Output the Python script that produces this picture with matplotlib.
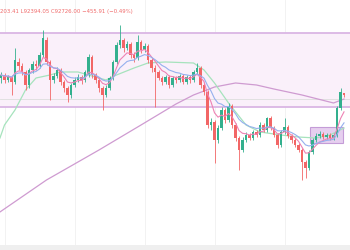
import matplotlib
matplotlib.use("Agg")
import matplotlib.pyplot as plt
import numpy as np
import pandas as pd
from matplotlib.patches import Rectangle

# ---- data (prices in thousands USD) ----
opens = [96.28, 96.91, 95.87, 96.49, 95.45, 99.63, 98.79, 97.54, 94.82, 97.96,
         99.21, 98.79, 101.09, 104.23, 99.63, 95.87, 96.70, 97.96, 95.45, 94.19,
         92.73, 94.82, 95.87, 96.49, 95.87, 96.91, 100.67, 96.91, 95.87, 94.19,
         92.73, 94.19, 96.28, 99.63, 103.18, 104.23, 102.55, 103.39, 101.09, 100.46,
         103.81, 102.14, 102.97, 100.05, 98.37, 97.54, 96.28, 95.45, 96.49, 94.82,
         96.28, 95.87, 96.70, 95.45, 96.49, 95.87, 97.54, 98.37, 94.82, 93.36,
         86.46, 87.09, 83.33, 85.83, 89.60, 87.51, 90.43, 86.46, 83.74, 81.24,
         83.33, 84.37, 83.74, 85.00, 84.37, 86.46, 85.42, 87.92, 85.83, 84.37,
         82.28, 85.00, 86.04, 84.16, 83.33, 82.28, 81.24, 78.73, 77.47, 80.82,
         83.33, 84.16, 84.58, 83.95, 84.37, 83.74, 84.37, 90.01, 93.18]
closes = [96.91, 95.87, 96.49, 95.45, 100.05, 98.79, 97.54, 94.82, 97.96, 99.21,
          98.79, 101.09, 104.64, 99.63, 95.87, 96.70, 97.96, 95.45, 94.19, 92.73,
          94.82, 95.87, 96.49, 95.87, 97.54, 100.67, 96.91, 95.87, 94.19, 92.73,
          94.19, 96.28, 99.63, 103.18, 104.23, 102.55, 103.39, 101.09, 100.46, 103.81,
          102.14, 102.97, 100.05, 98.37, 97.54, 96.28, 95.45, 96.49, 94.82, 96.28,
          95.87, 96.70, 95.45, 96.49, 95.87, 97.54, 98.37, 94.82, 93.36, 86.46,
          87.09, 83.33, 85.83, 89.60, 87.51, 90.43, 86.46, 83.74, 81.24, 83.33,
          84.37, 83.74, 85.00, 84.37, 86.46, 85.42, 87.92, 85.83, 84.37, 82.28,
          85.00, 86.04, 84.16, 83.33, 82.28, 81.24, 78.73, 77.47, 80.82, 83.33,
          84.16, 84.58, 83.95, 84.37, 83.74, 84.37, 90.01, 93.36, 92.73]
highs = [97.54, 97.33, 96.91, 96.91, 102.55, 100.46, 99.42, 97.96, 98.37, 99.84,
         100.05, 101.72, 106.32, 104.85, 100.05, 97.33, 98.58, 98.37, 95.87, 94.61,
         95.24, 96.49, 97.12, 96.91, 97.96, 101.30, 101.09, 97.33, 96.28, 94.61,
         94.82, 96.70, 100.05, 103.81, 107.36, 104.64, 104.02, 103.81, 101.72, 105.27,
         104.23, 103.60, 103.39, 100.46, 99.00, 97.96, 96.70, 96.91, 96.91, 96.70,
         96.70, 97.12, 97.12, 96.91, 96.91, 97.96, 99.42, 98.79, 95.24, 93.78,
         87.92, 87.51, 86.46, 90.22, 90.01, 91.06, 90.85, 86.88, 84.16, 83.95,
         85.00, 84.79, 85.42, 85.42, 87.09, 86.88, 88.13, 88.34, 86.25, 84.79,
         85.42, 87.92, 86.46, 84.58, 83.74, 82.70, 81.65, 79.15, 81.24, 83.74,
         84.79, 85.21, 85.00, 84.79, 84.79, 84.79, 90.43, 94.19, 93.20]
lows = [95.24, 95.24, 95.45, 92.73, 95.03, 97.96, 96.91, 93.78, 94.19, 97.33,
        97.96, 98.37, 100.67, 99.00, 91.69, 95.24, 96.28, 94.82, 93.36, 91.27,
        92.10, 94.40, 95.45, 95.03, 95.45, 96.49, 96.28, 95.24, 93.36, 89.60,
        92.31, 93.78, 95.87, 99.21, 102.55, 101.72, 102.14, 100.46, 99.63, 100.05,
        101.51, 101.72, 99.42, 97.54, 90.22, 95.87, 94.82, 95.03, 94.19, 94.40,
        95.24, 95.45, 95.03, 95.03, 95.24, 95.45, 97.12, 94.19, 92.73, 85.83,
        85.42, 78.52, 82.70, 85.42, 86.88, 87.09, 85.83, 83.12, 77.06, 80.82,
        82.91, 83.33, 83.33, 83.95, 83.95, 85.00, 85.00, 85.42, 83.95, 81.65,
        81.86, 84.58, 83.74, 82.70, 81.86, 80.82, 74.97, 75.38, 77.06, 80.40,
        82.91, 83.74, 83.53, 83.53, 83.33, 83.33, 83.95, 89.60, 92.39]

# slow moving averages (candle index, value)
ma_green_idx = [-0.3, 1, 4, 7, 10, 14, 17, 22, 25, 30, 33, 38, 42, 47, 55, 58,
                61, 65, 70, 74, 80, 85, 90, 94, 98]
ma_green_val = [83.74, 86.46, 89.60, 93.78, 96.28, 96.91, 97.54, 97.54, 96.91, 95.87,
                96.91, 98.37, 99.42, 99.63, 99.42, 97.96, 95.24, 91.06, 86.46, 85.00,
                84.37, 83.95, 83.74, 84.37, 85.83]
ma_purple_idx = [-0.3, 13, 21, 28, 40, 50, 55, 61, 67, 73, 78, 86, 95, 98]
ma_purple_val = [68.28, 74.97, 78.31, 81.24, 86.46, 90.85, 92.73, 94.40, 95.24, 94.82,
                 93.98, 92.73, 91.06, 91.89]

header = "203.41 L92394.05 C92726.00 \u2212455.91 (\u22120.49%)"

# annotation levels
band_top, band_bot = 105.69, 90.22
box_x0, box_x1, box_top, box_bot = 88.3, 97.7, 86.04, 82.70
price_line = 91.89

# ---- figure ----
fig = plt.figure(figsize=(3.5, 2.5), dpi=100)
ax = fig.add_axes([0, 0, 1, 1])
ax.set_xlim(-0.2857, 99.71)
ax.set_ylim(60.335, 112.585)
ax.axis("off")

# faint grid
for gx in [1.14, 21.1, 41.1, 61.1, 81.1]:
    ax.axvline(gx, color="#f0f0f0", lw=0.6, zorder=0)

# top band
ax.axhspan(band_bot, band_top, color="#faf0fa", zorder=0.5, lw=0)
ax.axhline(band_top, color="#dab6e4", lw=1.3, zorder=1)
ax.axhline(band_bot, color="#dab6e4", lw=1.3, zorder=1)
ax.axhline(price_line, color="#dddddd", lw=0.6, zorder=1)

# small box
ax.add_patch(Rectangle((box_x0, box_bot), box_x1 - box_x0, box_top - box_bot,
                       facecolor="#e0c3ec", edgecolor="#b98ad0", lw=0.8, alpha=0.8, zorder=1.2))

idx = np.arange(len(closes))
o = np.array(opens); c = np.array(closes)
up = c >= o
col = np.where(up, "#33b08e", "#f26666")

# slow MAs
ax.plot(ma_purple_idx, ma_purple_val, color="#cf9bd1", lw=0.9, zorder=2)
ax.plot(ma_green_idx, ma_green_val, color="#a6e3bd", lw=0.9, zorder=2)

# candles
ax.vlines(idx, lows, highs, colors=col, lw=0.6, zorder=3)
ax.bar(idx, np.maximum(np.abs(c - o), 0.12), bottom=np.minimum(o, c), width=0.72,
       color=col, lw=0, zorder=3.1)

# fast MAs from closes
s = pd.Series(closes)
ax.plot(idx, s.ewm(span=6, adjust=False).mean(), color="#ee82b4", lw=0.8, zorder=4)
ax.plot(idx, s.ewm(span=12, adjust=False).mean(), color="#95b0ee", lw=0.8, zorder=4)

# bottom strip
ax.add_patch(Rectangle((0, 0), 1, 0.02, transform=ax.transAxes,
                       facecolor="#efefef", edgecolor="none", zorder=5))

fig.text(0.0, 1 - 11 / 250, header, color="#f06a6a", fontsize=3.9,
         ha="left", va="center")

fig.savefig("out.png", dpi=100)
